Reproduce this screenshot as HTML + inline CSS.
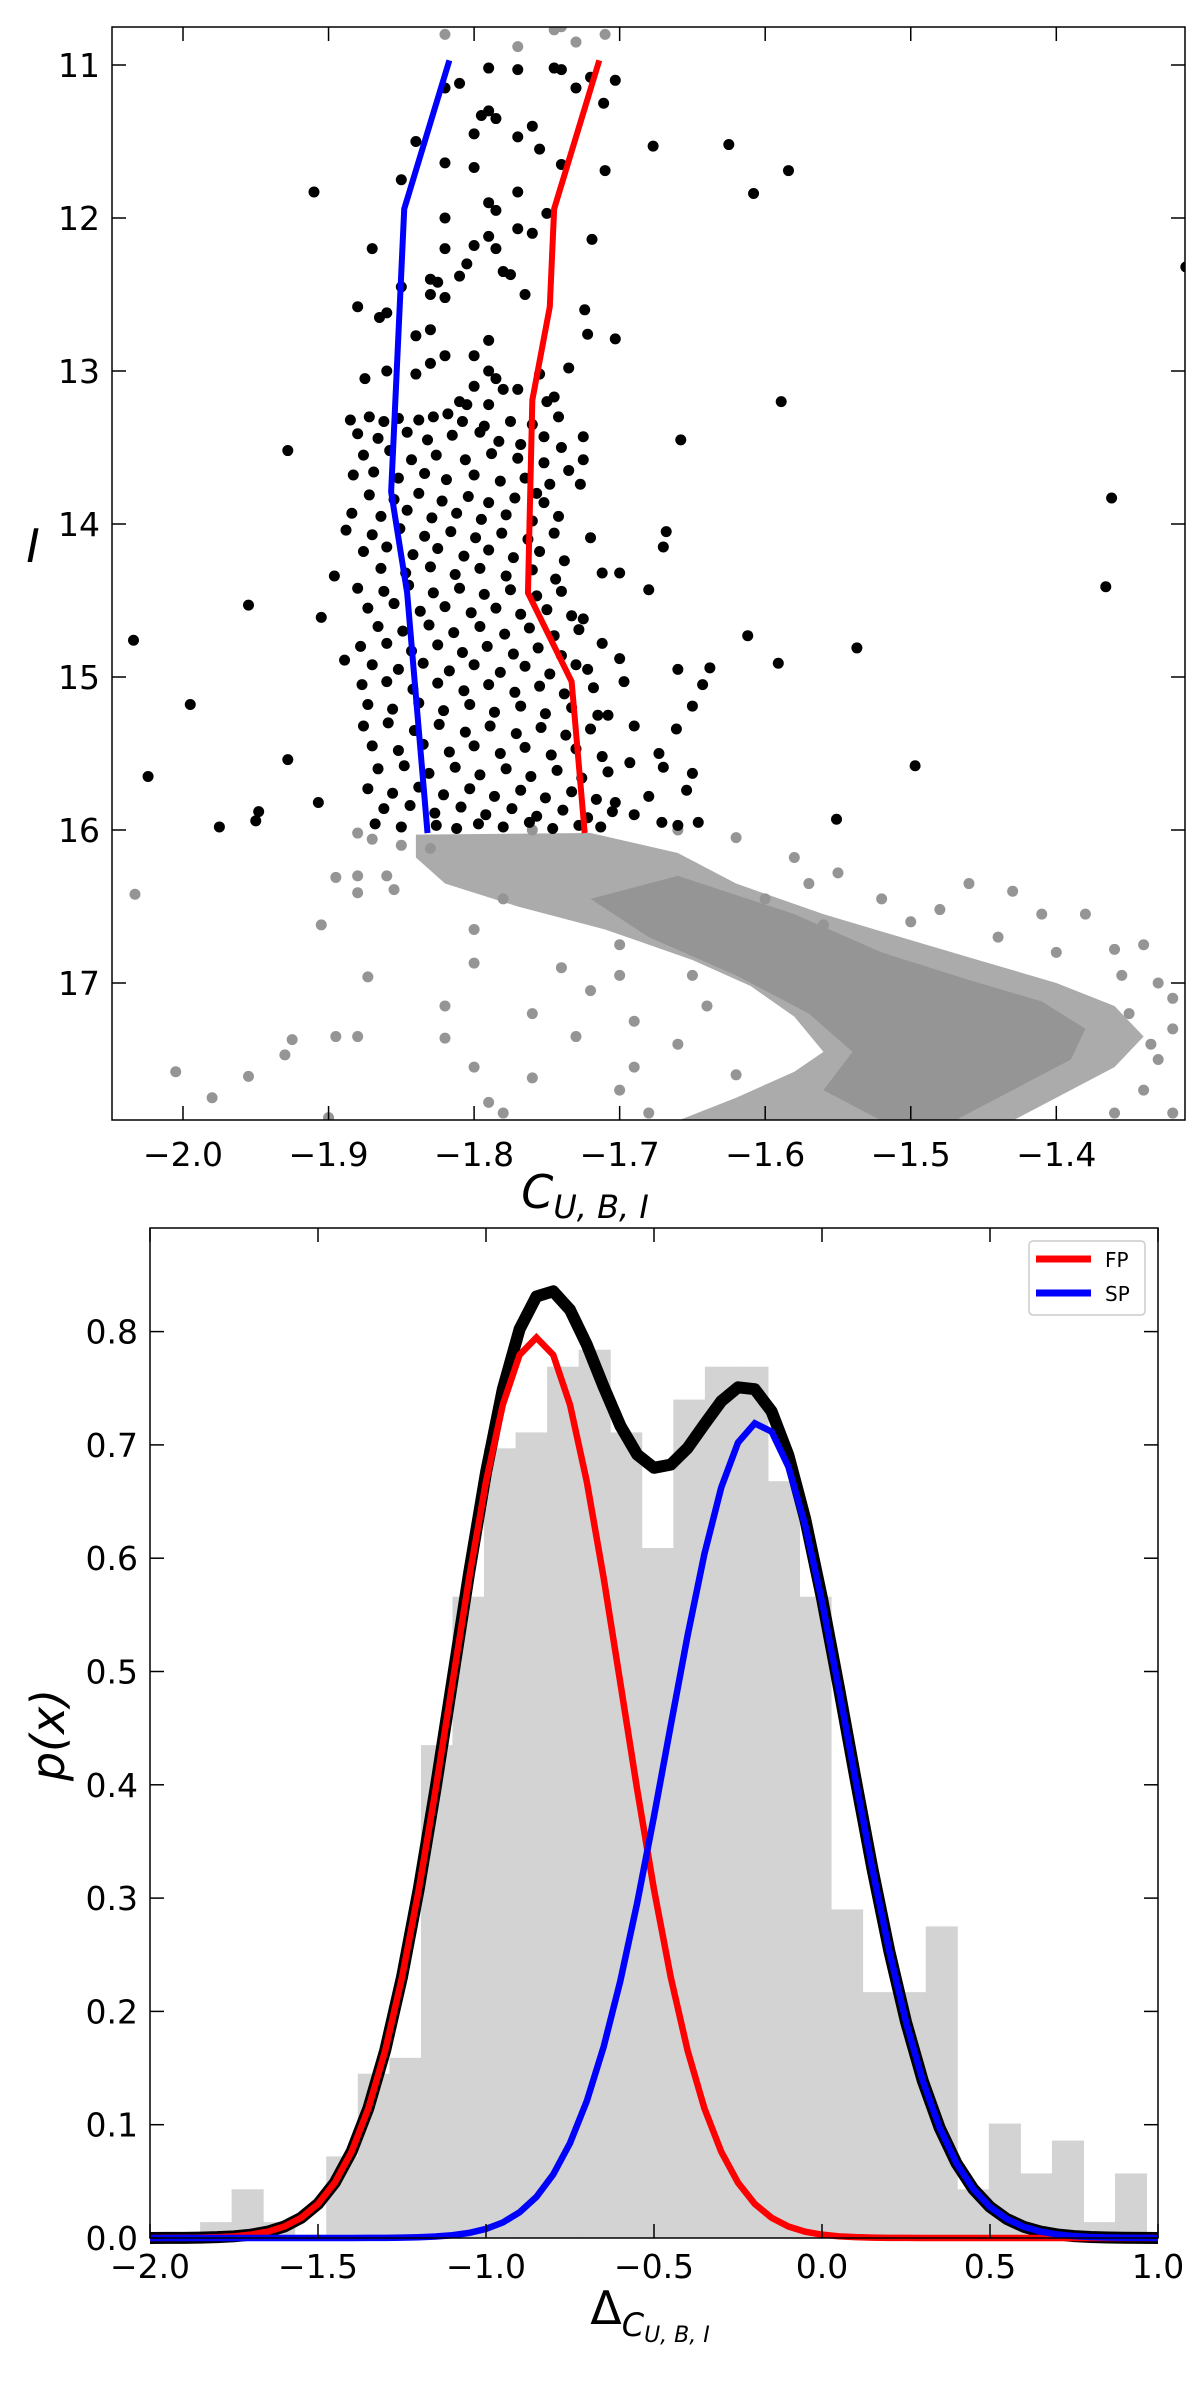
<!DOCTYPE html>
<html><head><meta charset="utf-8"><style>
html,body{margin:0;padding:0;background:#fff;}
svg{display:block;font-family:"DejaVu Sans","Liberation Sans",sans-serif;}
</style></head><body>
<svg id="fig" width="1200" height="2394" viewBox="0 0 1200 2394" xmlns="http://www.w3.org/2000/svg">
<g id="top"></g>
<g id="bot"></g>
</svg>
<script>
// ---------- Top panel data ----------
const cmdXTicks = [-2.0,-1.9,-1.8,-1.7,-1.6,-1.5,-1.4];
const cmdYTicks = [11,12,13,14,15,16,17];
const blueX = [-1.817,-1.848,-1.857,-1.846,-1.832];
const blueY = [10.97,11.94,13.79,14.45,16.02];
const redX = [-1.714,-1.745,-1.748,-1.760,-1.763,-1.733,-1.724];
const redY = [10.97,11.94,12.58,13.19,14.45,15.03,16.02];
const blackOutliers = "-2.034,14.76;-1.995,15.18;-2.024,15.65;-1.975,15.98;-1.955,14.53;-1.928,13.52;-1.928,15.54;-1.948,15.88;-1.950,15.94;-1.910,11.83;-1.905,14.61;-1.907,15.82;-1.896,14.34;-1.889,14.89;-1.677,11.53;-1.625,11.52;-1.608,11.84;-1.584,11.69;-1.589,13.20;-1.658,13.45;-1.668,14.05;-1.670,14.15;-1.680,14.43;-1.700,14.32;-1.612,14.73;-1.537,14.81;-1.591,14.91;-1.638,14.94;-1.660,14.95;-1.643,15.05;-1.650,15.19;-1.661,15.34;-1.673,15.50;-1.670,15.59;-1.650,15.63;-1.654,15.74;-1.646,15.95;-1.660,15.97;-1.671,15.95;-1.551,15.93;-1.497,15.58;-1.362,13.83;-1.366,14.41;-1.311,12.32;-1.693,15.56;-1.711,11.25;-1.720,11.08;-1.703,11.10;-1.710,11.69;-1.719,12.14;-1.724,12.60;-1.722,12.76;-1.703,12.79;-1.725,13.43;-1.725,13.58;-1.727,13.74;-1.720,14.09;-1.712,14.32;-1.725,14.62;-1.712,14.78;-1.730,14.92;-1.700,14.88;-1.697,15.03;-1.708,15.25;-1.690,15.32;-1.680,15.78;-1.703,15.82;-1.690,15.90";
const blackCore = "-1.820,11.15;-1.810,11.12;-1.790,11.02;-1.770,11.03;-1.745,11.02;-1.740,11.03;-1.730,11.15;-1.790,11.30;-1.795,11.33;-1.785,11.35;-1.760,11.40;-1.800,11.45;-1.770,11.47;-1.755,11.55;-1.740,11.65;-1.820,11.64;-1.800,11.67;-1.840,11.50;-1.850,11.75;-1.770,11.83;-1.790,11.90;-1.785,11.95;-1.750,11.97;-1.820,12.00;-1.770,12.07;-1.790,12.12;-1.800,12.18;-1.785,12.20;-1.760,12.10;-1.820,12.20;-1.870,12.20;-1.805,12.30;-1.780,12.35;-1.775,12.37;-1.810,12.38;-1.830,12.40;-1.825,12.42;-1.850,12.45;-1.765,12.50;-1.830,12.50;-1.820,12.52;-1.880,12.58;-1.860,12.62;-1.865,12.65;-1.830,12.73;-1.790,12.80;-1.840,12.77;-1.820,12.90;-1.800,12.90;-1.830,12.95;-1.790,13.00;-1.785,13.05;-1.755,13.02;-1.770,13.12;-1.840,13.02;-1.875,13.05;-1.860,13.00;-1.800,13.10;-1.780,13.12;-1.750,13.20;-1.745,13.17;-1.810,13.20;-1.805,13.22;-1.790,13.22;-1.735,12.98;"+
"-1.885,13.32;-1.872,13.30;-1.862,13.33;-1.852,13.31;-1.838,13.32;-1.828,13.30;-1.818,13.28;-1.808,13.33;-1.793,13.36;-1.775,13.33;-1.760,13.35;-1.742,13.30;"+
"-1.880,13.41;-1.866,13.44;-1.846,13.40;-1.832,13.45;-1.815,13.42;-1.796,13.40;-1.783,13.46;-1.768,13.48;-1.752,13.43;-1.740,13.50;"+
"-1.876,13.55;-1.858,13.52;-1.843,13.58;-1.826,13.55;-1.806,13.58;-1.788,13.54;-1.770,13.57;-1.752,13.60;-1.735,13.65;"+
"-1.883,13.68;-1.869,13.66;-1.852,13.70;-1.834,13.67;-1.819,13.71;-1.800,13.68;-1.782,13.72;-1.765,13.70;-1.748,13.74;-1.757,13.80;"+
"-1.872,13.81;-1.855,13.84;-1.838,13.80;-1.822,13.85;-1.804,13.82;-1.790,13.86;-1.772,13.83;-1.752,13.86;"+
"-1.884,13.93;-1.864,13.95;-1.846,13.91;-1.829,13.96;-1.812,13.93;-1.795,13.97;-1.778,13.94;-1.760,13.98;-1.742,13.95;"+
"-1.888,14.04;-1.870,14.07;-1.851,14.03;-1.834,14.08;-1.816,14.05;-1.799,14.09;-1.781,14.06;-1.763,14.10;-1.745,14.06;"+
"-1.876,14.18;-1.860,14.15;-1.842,14.20;-1.825,14.16;-1.807,14.21;-1.790,14.17;-1.773,14.22;-1.755,14.18;-1.738,14.24;"+
"-1.864,14.29;-1.847,14.32;-1.830,14.28;-1.813,14.33;-1.796,14.29;-1.778,14.34;-1.760,14.30;-1.744,14.36;"+
"-1.880,14.42;-1.862,14.44;-1.845,14.40;-1.828,14.45;-1.810,14.42;-1.793,14.46;-1.775,14.43;-1.757,14.47;-1.740,14.44;"+
"-1.873,14.55;-1.855,14.52;-1.837,14.57;-1.820,14.54;-1.802,14.58;-1.785,14.55;-1.768,14.59;-1.750,14.56;-1.733,14.60;"+
"-1.866,14.67;-1.849,14.70;-1.831,14.66;-1.814,14.71;-1.796,14.67;-1.779,14.72;-1.762,14.68;-1.745,14.73;-1.728,14.69;"+
"-1.878,14.80;-1.860,14.78;-1.843,14.83;-1.825,14.79;-1.808,14.84;-1.791,14.80;-1.773,14.85;-1.756,14.81;-1.740,14.86;"+
"-1.870,14.92;-1.852,14.95;-1.835,14.91;-1.817,14.96;-1.800,14.92;-1.782,14.97;-1.765,14.93;-1.748,14.98;-1.722,14.95;"+
"-1.877,15.05;-1.860,15.03;-1.842,15.08;-1.825,15.04;-1.807,15.09;-1.790,15.05;-1.772,15.10;-1.755,15.06;-1.738,15.11;-1.718,15.07;"+
"-1.873,15.18;-1.856,15.21;-1.838,15.17;-1.821,15.22;-1.803,15.18;-1.786,15.23;-1.768,15.19;-1.751,15.24;-1.733,15.20;-1.715,15.25;"+
"-1.876,15.32;-1.859,15.30;-1.841,15.35;-1.824,15.31;-1.806,15.36;-1.789,15.32;-1.771,15.37;-1.754,15.33;-1.737,15.38;-1.720,15.34;"+
"-1.870,15.45;-1.852,15.48;-1.835,15.44;-1.817,15.49;-1.800,15.45;-1.782,15.50;-1.765,15.46;-1.747,15.51;-1.730,15.47;-1.712,15.52;"+
"-1.866,15.60;-1.848,15.58;-1.831,15.63;-1.813,15.59;-1.796,15.64;-1.778,15.60;-1.761,15.65;-1.743,15.61;-1.726,15.66;-1.708,15.62;"+
"-1.873,15.73;-1.856,15.76;-1.838,15.72;-1.821,15.77;-1.803,15.73;-1.786,15.78;-1.768,15.74;-1.751,15.79;-1.733,15.75;-1.716,15.80;"+
"-1.862,15.86;-1.844,15.84;-1.827,15.89;-1.809,15.85;-1.792,15.90;-1.774,15.86;-1.757,15.91;-1.739,15.87;-1.722,15.92;-1.705,15.88;"+
"-1.868,15.96;-1.850,15.98;-1.826,15.97;-1.812,15.99;-1.797,15.96;-1.780,15.98;-1.762,15.95;-1.746,15.99;-1.728,15.97;-1.713,15.98";
const grayDenseX = [-1.84,-1.72,-1.66,-1.62,-1.56,-1.50,-1.45,-1.40,-1.36,-1.34,-1.36,-1.40,-1.43,-1.66,-1.62,-1.58,-1.56,-1.58,-1.61,-1.65,-1.71,-1.77,-1.82,-1.84];
const grayDenseY = [16.03,16.02,16.15,16.35,16.55,16.72,16.86,17.00,17.15,17.35,17.55,17.75,17.90,17.90,17.75,17.58,17.45,17.22,17.02,16.85,16.65,16.50,16.35,16.18];
const grayCoreX = [-1.66,-1.58,-1.52,-1.46,-1.41,-1.38,-1.39,-1.43,-1.47,-1.52,-1.56,-1.54,-1.57,-1.62,-1.68,-1.72];
const grayCoreY = [16.30,16.55,16.80,16.98,17.12,17.30,17.50,17.70,17.90,17.90,17.70,17.45,17.20,16.95,16.70,16.45];
const graySparse = "-2.033,16.42;-2.005,17.58;-1.955,17.61;-1.930,17.47;-1.925,17.37;-1.895,17.35;-1.880,17.35;-1.873,16.96;-1.905,16.62;-1.895,16.31;-1.880,16.41;-1.880,16.30;-1.860,16.30;-1.855,16.39;-1.820,17.15;-1.820,17.36;-1.800,16.65;-1.800,16.87;-1.800,17.55;-1.790,17.78;-1.740,16.90;-1.720,17.05;-1.700,16.95;-1.690,17.25;-1.650,16.95;-1.620,16.90;-1.600,16.45;-1.570,16.35;-1.550,16.28;-1.520,16.45;-1.480,16.52;-1.460,16.35;-1.430,16.40;-1.410,16.55;-1.380,16.55;-1.360,16.78;-1.340,16.75;-1.330,17.00;-1.320,17.10;-1.320,17.30;-1.330,17.50;-1.340,17.70;-1.320,17.85;-1.360,17.85;-1.900,17.88;-1.980,17.75;-1.620,16.05;-1.580,16.18;-1.660,16.00;-1.760,16.00;-1.780,16.45;-1.830,16.12;-1.870,16.06;-1.880,16.02;-1.850,16.10;-1.820,10.80;-1.730,10.85;-1.740,10.75;-1.770,10.88;-1.710,10.80;-1.745,10.77;-1.350,17.20;-1.335,17.40;-1.355,16.95;-1.690,17.55;-1.700,17.70;-1.760,17.62;-1.780,17.85;-1.730,17.35;-1.760,17.20;-1.640,16.40;-1.600,16.62;-1.560,16.62;-1.500,16.60;-1.440,16.70;-1.400,16.80;-1.700,16.75;-1.660,17.40;-1.640,17.15;-1.680,17.85;-1.620,17.60";

// ---------- Bottom panel data ----------
const histStart = -1.851, histWidth = 0.0939;
const histHeights = [0.014,0.043,0.014,0.003,0.072,0.145,0.159,0.435,0.566,0.697,0.711,0.769,0.784,0.711,0.609,0.740,0.769,0.769,0.668,0.566,0.290,0.217,0.217,0.275,0.043,0.101,0.057,0.086,0.014,0.057];
const histXTicks = [-2.0,-1.5,-1.0,-0.5,0.0,0.5,1.0];
const histYTicks = [0.0,0.1,0.2,0.3,0.4,0.5,0.6,0.7,0.8];
const fpParams = [0.506,-0.85,0.254];   // weight, mean, sigma
const spParams = [0.487,-0.19,0.27];

const NS="http://www.w3.org/2000/svg";
function mk(parent,tag,attrs){const e=document.createElementNS(NS,tag);for(const k in attrs)e.setAttribute(k,attrs[k]);parent.appendChild(e);return e;}
function parsePts(s){return s.split(';').map(p=>p.split(',').map(Number));}

// ===== TOP PANEL =====
const T=document.getElementById('top');
const tL=112,tR=1185,tT=27,tB=1120;
const tx=v=>183+(v+2.0)*1455.5;
const ty=v=>65+(v-11)*153;
let cp=mk(T,'clipPath',{id:'ctop'});mk(cp,'rect',{x:tL,y:tT,width:tR-tL,height:tB-tT});
const tg=mk(T,'g',{'clip-path':'url(#ctop)'});
let poly=grayDenseX.map((x,i)=>tx(x)+','+ty(grayDenseY[i])).join(' ');
let e=mk(tg,'polygon',{points:poly,fill:'#ababab'});

poly=grayCoreX.map((x,i)=>tx(x)+','+ty(grayCoreY[i])).join(' ');
e=mk(tg,'polygon',{points:poly,fill:'#959595'});

parsePts(graySparse).forEach(p=>{const c=mk(tg,'circle',{cx:tx(p[0]),cy:ty(p[1]),r:5.5,fill:'#959595'});

});
parsePts(blackCore+';'+blackOutliers).forEach(p=>{const c=mk(tg,'circle',{cx:tx(p[0]),cy:ty(p[1]),r:5.5,fill:'#000'});

});
e=mk(tg,'polyline',{points:blueX.map((x,i)=>tx(x)+','+ty(blueY[i])).join(' '),fill:'none',stroke:'#0000ff','stroke-width':6});

e=mk(tg,'polyline',{points:redX.map((x,i)=>tx(x)+','+ty(redY[i])).join(' '),fill:'none',stroke:'#ff0000','stroke-width':6});

e=mk(T,'rect',{x:tL,y:tT,width:tR-tL,height:tB-tT,fill:'none',stroke:'#000','stroke-width':1.5});

cmdXTicks.forEach(v=>{const x=tx(v);
 mk(T,'line',{x1:x,x2:x,y1:tB,y2:tB-14,stroke:'#000','stroke-width':1.5});
 mk(T,'line',{x1:x,x2:x,y1:tT,y2:tT+14,stroke:'#000','stroke-width':1.5});
 const t=mk(T,'text',{x:x,y:tB+46,'font-size':33,'text-anchor':'middle'});t.textContent=(v<0?'\u2212':'')+Math.abs(v).toFixed(1);
 
 });
cmdYTicks.forEach(v=>{const y=ty(v);
 mk(T,'line',{x1:tL,x2:tL+14,y1:y,y2:y,stroke:'#000','stroke-width':1.5});
 mk(T,'line',{x1:tR,x2:tR-14,y1:y,y2:y,stroke:'#000','stroke-width':1.5});
 const t=mk(T,'text',{x:tL-12,y:y+12,'font-size':33,'text-anchor':'end'});t.textContent=v;
 
 });
e=mk(T,'text',{x:585,y:1208,'font-size':46,'text-anchor':'middle','font-style':'italic'});
e.innerHTML='C<tspan font-size="32" dy="10">U, B, I</tspan>';

e=mk(T,'text',{x:33,y:562,'font-size':46,'text-anchor':'middle','font-style':'italic'});e.textContent='I';


// ===== BOTTOM PANEL =====
const B=document.getElementById('bot');
const bL=150,bR=1158,bT=1228,bB=2238;
const bx=v=>bL+(v+2)*(bR-bL)/3;
const by=v=>bB-v*1133;
histHeights.forEach((h,i)=>{const x0=bx(histStart+i*histWidth),x1=bx(histStart+(i+1)*histWidth);
 const r=mk(B,'rect',{x:x0,y:by(h),width:x1-x0+0.5,height:bB-by(h),fill:'#d3d3d3'});
 
 });
const g=(p,x)=>p[0]/(p[2]*Math.sqrt(2*Math.PI))*Math.exp(-0.5*((x-p[1])/p[2])**2);
const xs=[];for(let i=0;i<=60;i++)xs.push(-2+i*0.05);
const ptsOf=f=>xs.map(x=>bx(x)+','+by(f(x))).join(' ');
e=mk(B,'polyline',{points:ptsOf(x=>g(fpParams,x)+g(spParams,x)),fill:'none',stroke:'#000','stroke-width':12,'stroke-linejoin':'round'});

e=mk(B,'polyline',{points:ptsOf(x=>g(fpParams,x)),fill:'none',stroke:'#ff0000','stroke-width':6.5});

e=mk(B,'polyline',{points:ptsOf(x=>g(spParams,x)),fill:'none',stroke:'#0000ff','stroke-width':6.5});

e=mk(B,'rect',{x:bL,y:bT,width:bR-bL,height:bB-bT,fill:'none',stroke:'#000','stroke-width':1.5});

histXTicks.forEach(v=>{const x=bx(v);
 mk(B,'line',{x1:x,x2:x,y1:bB,y2:bB-14,stroke:'#000','stroke-width':1.5});
 mk(B,'line',{x1:x,x2:x,y1:bT,y2:bT+14,stroke:'#000','stroke-width':1.5});
 const t=mk(B,'text',{x:x,y:bB+40,'font-size':33,'text-anchor':'middle'});t.textContent=(v<0?'\u2212':'')+Math.abs(v).toFixed(1);
 
 });
histYTicks.forEach(v=>{const y=by(v);
 mk(B,'line',{x1:bL,x2:bL+14,y1:y,y2:y,stroke:'#000','stroke-width':1.5});
 mk(B,'line',{x1:bR,x2:bR-14,y1:y,y2:y,stroke:'#000','stroke-width':1.5});
 const t=mk(B,'text',{x:bL-12,y:y+12,'font-size':33,'text-anchor':'end'});t.textContent=v.toFixed(1);
 
 });
e=mk(B,'text',{x:650,y:2324,'font-size':46,'text-anchor':'middle'});
e.innerHTML='\u0394<tspan font-size="32" font-style="italic" dy="12">C</tspan><tspan font-size="22" font-style="italic" dy="6">U, B, I</tspan>';

e=mk(B,'text',{x:0,y:0,'font-size':46,'text-anchor':'middle','font-style':'italic',transform:'translate(64,1735) rotate(-90)'});e.textContent='p(x)';

const lg=mk(B,'g',{});


mk(lg,'rect',{x:1029,y:1241,width:116,height:74,rx:4,fill:'#fff',stroke:'#ccc','stroke-width':1.5});
mk(lg,'line',{x1:1036,x2:1091,y1:1259,y2:1259,stroke:'#ff0000','stroke-width':7});
mk(lg,'line',{x1:1036,x2:1091,y1:1293,y2:1293,stroke:'#0000ff','stroke-width':7});
let t1=mk(lg,'text',{x:1105,y:1267,'font-size':20});t1.textContent='FP';


let t2=mk(lg,'text',{x:1105,y:1301,'font-size':20});t2.textContent='SP';


</script>
</body></html>
